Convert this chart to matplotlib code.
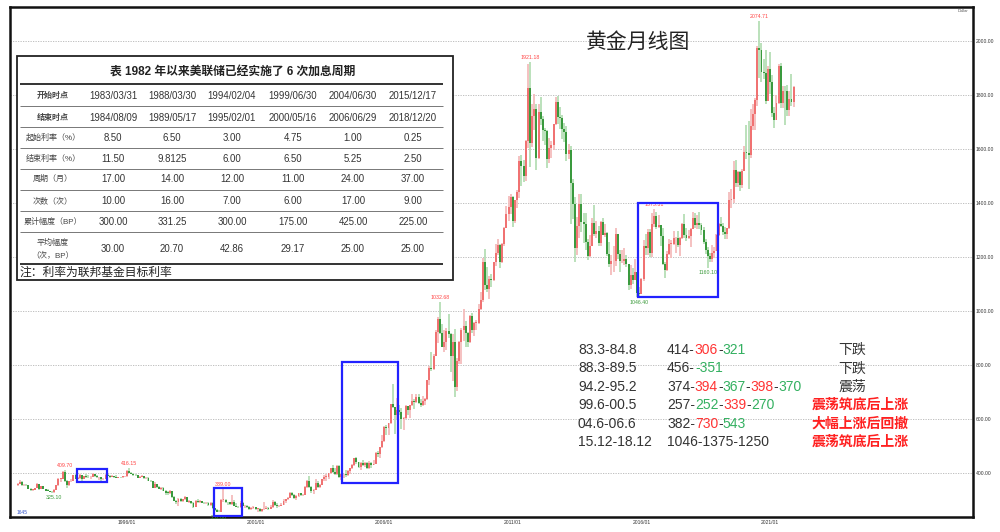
import matplotlib.pyplot as plt
import numpy as np
import pandas as pd
from matplotlib.patches import Rectangle
from matplotlib.ticker import FormatStrFormatter

plt.rcParams['font.family'] = ['Liberation Sans', 'Noto Sans CJK SC', 'DejaVu Sans']

# gold monthly candles, Oct 1991 - Dec 2021 (open = previous close)
first_open = 354
close = [
    358, 366, 353,
    354, 353, 341, 337, 337, 343, 357, 340, 349, 339, 334, 333,
    330, 327, 337, 354, 378, 378, 401, 371, 355, 369, 370, 391,
    378, 381, 390, 376, 387, 386, 384, 386, 394, 389, 383, 383,
    375, 376, 392, 389, 385, 387, 384, 382, 384, 383, 387, 387,
    405, 400, 396, 392, 391, 382, 385, 387, 379, 379, 371, 369,
    345, 358, 348, 340, 345, 334, 326, 325, 332, 311, 296, 290,
    304, 297, 301, 310, 293, 296, 288, 273, 294, 292, 294, 288,
    287, 287, 279, 286, 268, 261, 255, 254, 299, 299, 291, 290,
    283, 293, 277, 274, 272, 288, 276, 278, 273, 264, 270, 273,
    266, 267, 258, 264, 267, 271, 266, 273, 293, 279, 275, 277,
    282, 297, 302, 308, 326, 318, 305, 313, 324, 317, 317, 347,
    368, 348, 334, 336, 361, 346, 354, 375, 385, 386, 398, 416,
    402, 397, 426, 386, 394, 394, 391, 408, 416, 428, 453, 438,
    422, 435, 428, 436, 417, 436, 429, 434, 473, 470, 495, 517,
    568, 564, 583, 654, 643, 614, 633, 624, 599, 604, 646, 632,
    651, 665, 662, 681, 659, 650, 666, 673, 743, 789, 783, 834,
    923, 971, 916, 865, 885, 926, 913, 833, 884, 717, 815, 884,
    928, 942, 916, 883, 980, 927, 955, 955, 1008, 1040, 1182, 1097,
    1081, 1118, 1113, 1180, 1213, 1245, 1181, 1248, 1307, 1357, 1386, 1421,
    1333, 1410, 1439, 1556, 1536, 1500, 1628, 1826, 1620, 1722, 1746, 1566,
    1737, 1711, 1669, 1664, 1561, 1604, 1614, 1692, 1773, 1719, 1714, 1675,
    1663, 1579, 1595, 1472, 1394, 1234, 1313, 1395, 1327, 1323, 1253, 1202,
    1240, 1326, 1284, 1296, 1250, 1327, 1282, 1287, 1209, 1172, 1183, 1184,
    1283, 1212, 1183, 1183, 1190, 1172, 1095, 1133, 1115, 1142, 1065, 1061,
    1118, 1238, 1233, 1293, 1215, 1322, 1351, 1309, 1316, 1277, 1173, 1151,
    1211, 1249, 1249, 1268, 1269, 1242, 1269, 1322, 1280, 1271, 1275, 1303,
    1345, 1318, 1325, 1316, 1299, 1253, 1224, 1201, 1192, 1215, 1222, 1282,
    1321, 1313, 1292, 1284, 1305, 1409, 1413, 1520, 1472, 1513, 1464, 1517,
    1589, 1585, 1577, 1686, 1730, 1781, 1975, 1967, 1886, 1879, 1777, 1895,
    1847, 1734, 1708, 1769, 1906, 1770, 1814, 1813, 1743, 1783, 1774, 1829,
]
high = [
    363, 372, 368,
    360, 358, 354, 342, 341, 345, 362, 358, 351, 350, 340, 338,
    334, 334, 338, 356, 380, 382, 406, 409.70, 372, 370, 375, 392,
    395, 386, 394, 391, 389, 395, 390, 388, 398, 396, 392, 384,
    384, 380, 394, 396, 391, 390, 389, 390, 386, 386, 389, 389,
    409, 416.15, 401, 398, 395, 392, 389, 390, 388, 386, 384, 373,
    370, 364, 359, 349, 347, 348, 335, 331, 335, 334, 313, 300,
    306, 305, 304, 314, 311, 300, 297, 290, 300, 301, 300, 297,
    293, 292, 290, 290, 292, 269, 264, 263, 301, 339.00, 301, 293,
    292, 316, 299, 289, 278, 294, 292, 281, 279, 276, 272, 276,
    274, 268, 268, 266, 292, 275, 272, 279, 300, 294, 286, 281,
    288, 304, 304, 310, 327, 329, 323, 316, 326, 326, 323, 349,
    372, 389, 352, 341, 375, 371, 360, 376, 391, 394, 399, 417,
    428, 418, 430, 428, 395, 397, 409, 411, 418, 431, 456, 457,
    440, 440, 447, 438, 438, 443, 438, 448, 475, 480, 497, 541,
    572, 576, 585, 655, 730, 645, 676, 652, 640, 608, 650, 647,
    652, 690, 672, 693, 692, 672, 684, 676, 745, 796, 848, 838,
    930, 976, 1032.68, 950, 930, 935, 988, 918, 913, 933, 826, 889,
    936, 1007, 962, 923, 984, 991, 960, 966, 1024, 1070, 1195, 1227,
    1162, 1127, 1136, 1181, 1249, 1265, 1246, 1250, 1310, 1387, 1424, 1431,
    1424, 1412, 1447, 1575, 1577, 1557, 1632, 1913, 1921.18, 1764, 1803, 1764,
    1764, 1791, 1723, 1677, 1668, 1640, 1628, 1693, 1790, 1796, 1755, 1725,
    1696, 1683, 1617, 1612, 1487, 1423, 1348, 1433, 1434, 1362, 1361, 1267,
    1280, 1345, 1392, 1331, 1315, 1332, 1345, 1323, 1290, 1255, 1206, 1239,
    1307, 1284, 1224, 1224, 1232, 1205, 1174, 1170, 1157, 1191, 1143, 1088,
    1123, 1263, 1283, 1304, 1304, 1362, 1375.31, 1367, 1353, 1317, 1306, 1181,
    1220, 1264, 1262, 1295, 1273, 1296, 1274, 1326, 1357, 1306, 1299, 1307,
    1366, 1362, 1356, 1365, 1326, 1310, 1266, 1235, 1214, 1243, 1237, 1284,
    1326, 1347, 1324, 1310, 1306, 1439, 1452, 1555, 1557, 1517, 1516, 1525,
    1611, 1689, 1704, 1747, 1765, 1789, 1981, 2074.71, 1992, 1933, 1966, 1906,
    1959, 1872, 1755, 1798, 1913, 1916, 1832, 1834, 1836, 1814, 1877, 1831,
]
low = [
    352, 357, 352,
    349, 350, 340, 333, 334, 336, 342, 337, 339, 338, 331, 331,
    327, 326, 325.10, 336, 352, 366, 376, 364, 345, 352, 364, 369,
    375, 376, 378, 370, 375, 380, 381, 376, 385, 385, 382, 374,
    371, 372, 375, 387, 382, 383, 382, 381, 381, 381, 382, 384,
    386, 398, 394, 389, 389, 380, 380, 384, 378, 378, 368, 367,
    343, 342, 345, 338, 337, 333, 318, 319, 320, 308, 294, 284,
    277, 292, 291, 299, 292, 289, 285, 271, 272, 289, 289, 286,
    283, 283, 278, 278, 266, 257, 253, 252.80, 253.5, 291, 289, 280,
    280, 281, 276, 272, 270, 271, 275, 271, 270, 263, 262, 267,
    262, 255, 255, 255, 263, 265, 263, 265, 270, 277, 271, 272,
    276, 281, 288, 298, 307, 314, 302, 300, 311, 313, 315, 316,
    343, 345, 326, 322, 335, 342, 342, 353, 370, 369, 378, 396,
    398, 393, 392, 381, 372, 382, 385, 387, 397, 414, 425, 432,
    419, 411, 424, 421, 414, 414, 416, 428, 432, 460, 456, 491,
    514, 540, 539, 582, 640, 543, 600, 612, 561, 560, 600, 612,
    603, 648, 636, 660, 653, 642, 648, 650, 670, 726, 776, 779,
    832, 882, 913, 864, 846, 856, 898, 773, 740, 681, 703, 801,
    803, 889, 866, 865, 880, 916, 908, 930, 950, 1003, 1033, 1075,
    1071, 1045, 1088, 1112, 1165, 1207, 1157, 1178, 1241, 1306, 1331, 1360,
    1309, 1324, 1381, 1417, 1462, 1478, 1481, 1603, 1534, 1606, 1670, 1523,
    1563, 1689, 1627, 1613, 1527, 1548, 1564, 1597, 1687, 1691, 1672, 1636,
    1626, 1555, 1562, 1321, 1338, 1180, 1207, 1271, 1292, 1251, 1226, 1187,
    1200, 1238, 1277, 1268, 1240, 1240, 1281, 1273, 1204, 1161, 1131, 1142,
    1167, 1191, 1142, 1175, 1170, 1162, 1077, 1080, 1098, 1113, 1052, 1046.40,
    1061, 1111, 1208, 1208, 1200, 1200, 1310, 1301, 1305, 1241, 1171, 1122,
    1146, 1207, 1194, 1244, 1214, 1236, 1204, 1266, 1271, 1260, 1264, 1236,
    1302, 1307, 1303, 1302, 1282, 1246, 1211, 1160.10, 1180, 1182, 1196, 1221,
    1276, 1311, 1281, 1266, 1267, 1303, 1381, 1400, 1459, 1459, 1445, 1454,
    1516, 1563, 1451, 1567, 1670, 1671, 1758, 1863, 1849, 1860, 1764, 1776,
    1802, 1717, 1677, 1706, 1765, 1750, 1750, 1688, 1721, 1722, 1758, 1753,
]

# extremes labelled on the chart: (month, which side)
marked = [("1993-03", "low"), ("1993-08", "high"), ("1996-02", "high"),
          ("1999-08", "low"), ("1999-10", "high"), ("2008-03", "high"),
          ("2011-09", "high"), ("2015-12", "low"), ("2016-07", "high"),
          ("2018-08", "low"), ("2020-08", "high")]

# rate-hike table
table_title = "表 1982 年以来美联储已经实施了 6 次加息周期"
row_names = ["开始时点", "结束时点", "起始利率（%）", "结束利率（%）", "周期（月）",
             "次数（次）", "累计幅度（BP）", "平均幅度\n（次，BP）"]
start_dates = ["1983/03/31", "1988/03/30", "1994/02/04", "1999/06/30", "2004/06/30", "2015/12/17"]
end_dates = ["1984/08/09", "1989/05/17", "1995/02/01", "2000/05/16", "2006/06/29", "2018/12/20"]
start_rate = ["8.50", "6.50", "3.00", "4.75", "1.00", "0.25"]
end_rate = ["11.50", "9.8125", "6.00", "6.50", "5.25", "2.50"]
cycle_months = ["17.00", "14.00", "12.00", "11.00", "24.00", "37.00"]
hike_count = ["10.00", "16.00", "7.00", "6.00", "17.00", "9.00"]
total_bp = ["300.00", "331.25", "300.00", "175.00", "425.00", "225.00"]
avg_bp = ["30.00", "20.70", "42.86", "29.17", "25.00", "25.00"]
table_note = "注：利率为联邦基金目标利率"

# gold moves during each hike cycle
periods = ["83.3-84.8", "88.3-89.5", "94.2-95.2", "99.6-00.5", "04.6-06.6", "15.12-18.12"]
price_paths = [
    [("414-", "k"), ("306", "r"), ("-", "k"), ("321", "g")],
    [("456-", "k"), ("-351", "g")],
    [("374-", "k"), ("394", "r"), ("-", "k"), ("367", "g"), ("-", "k"), ("398", "r"), ("-", "k"), ("370", "g")],
    [("257-", "k"), ("252", "g"), ("-", "k"), ("339", "r"), ("-", "k"), ("270", "g")],
    [("382-", "k"), ("730", "r"), ("-", "k"), ("543", "g")],
    [("1046-1375-1250", "k")],
]
verdicts = ["下跌", "下跌", "震荡", "震荡筑底后上涨", "大幅上涨后回撤", "震荡筑底后上涨"]
verdict_hot = [False, False, False, True, True, True]

seg_colors = {"k": "#333333", "r": "#ff3333", "g": "#33b060"}

months = pd.date_range("1991-10-01", periods=len(close), freq="MS")
x = np.asarray(months.year + (months.month - 1) / 12.0)
c = np.array(close, dtype=float)
o = np.r_[first_open, c[:-1]]
h = np.array(high, dtype=float)
l = np.array(low, dtype=float)
up = c >= o

fig = plt.figure(figsize=(10, 5.32), dpi=100)
ax = fig.add_axes([0.010, 0.0282, 0.963, 0.9586])

ax.vlines(x[up], l[up], h[up], color="#f5bcbc", lw=1.3, zorder=2)
ax.vlines(x[~up], l[~up], h[~up], color="#b5deb5", lw=1.3, zorder=2)
body_lo = np.minimum(o, c)
body_h = np.maximum(np.abs(c - o), 2)
ax.bar(x[up], body_h[up], bottom=body_lo[up], width=0.075, color="#f07272", lw=0, zorder=3)
ax.bar(x[~up], body_h[~up], bottom=body_lo[~up], width=0.075, color="#3a9a3e", lw=0, zorder=3)

# high / low labels
for ym, side in marked:
    i = months.get_loc(pd.Timestamp(ym + "-01"))
    if side == "high":
        ax.annotate(f"{h[i]:.2f}", (x[i], h[i]), xytext=(0, 1.5), textcoords="offset points",
                    ha="center", va="bottom", fontsize=3.8, color="#ff4444", zorder=4)
    else:
        ax.annotate(f"{l[i]:.2f}", (x[i], l[i]), xytext=(0, -1.5), textcoords="offset points",
                    ha="center", va="top", fontsize=3.8, color="#3a9a3a", zorder=4)

# blue boxes around the hike cycles
for x0, x1, y0, y1 in [(1994.06, 1995.22, 366, 414), (1999.38, 2000.47, 240, 344),
                       (2004.36, 2006.54, 362, 810), (2015.87, 2018.98, 1051, 1399)]:
    ax.add_patch(Rectangle((x0, y0), x1 - x0, y1 - y0, fill=False, ec="#2222ff", lw=1.6, zorder=5))

ax.set_xlim(1991.45, 2028.89)
ax.set_ylim(236, 2125)
ax.yaxis.tick_right()
ax.set_yticks(range(400, 2001, 200))
ax.yaxis.set_major_formatter(FormatStrFormatter("%.2f"))
xt = [1996, 2001, 2006, 2011, 2016, 2021]
ax.set_xticks(xt)
ax.set_xticklabels([f"{t}/01" for t in xt])
ax.tick_params(axis="both", labelsize=3.6, length=0, pad=2, colors="#333333")
ax.grid(axis="y", color="#b5b5b5", linestyle=(0, (1.5, 1.5)), lw=0.6)
for s in ax.spines.values():
    s.set_linewidth(1.8)
    s.set_color("#111111")

# overlay in pixel coordinates for table and notes
ov = fig.add_axes([0, 0, 1, 1])
ov.set_xlim(0, 1000)
ov.set_ylim(532, 0)
ov.axis("off")

ov.text(638, 42, "黄金月线图", ha="center", va="center", fontsize=15, color="#222222")
ov.text(963, 11, "Dollar", ha="center", va="center", fontsize=3, color="#555555")
ov.text(17, 513, "1645", ha="left", va="center", fontsize=3.5, color="#3355cc")

ov.add_patch(Rectangle((17, 56), 436, 224, fc="white", ec="#222222", lw=1.3))
ov.text(233, 73, table_title, ha="center", va="center", fontsize=8.5, fontweight="bold", color="#222222")
ov.hlines([84, 264], 20, 443, color="#333333", lw=1.4)
ov.hlines([106, 127, 148, 169, 190, 211, 232], 20, 443, color="#777777", lw=0.7)
row_y = [96, 118, 138, 159, 179, 201, 222, 249]
col_x = [113, 172, 232, 293, 353, 413]
rows = [start_dates, end_dates, start_rate, end_rate, cycle_months, hike_count, total_bp, avg_bp]
for k, (name, vals) in enumerate(zip(row_names, rows)):
    ov.text(53, row_y[k], name, ha="center", va="center", fontsize=5.8, color="#444444",
            fontweight="bold" if k < 2 else "normal", linespacing=1.6)
    for cx, v in zip(col_x, vals):
        ov.text(cx, row_y[k], v, ha="center", va="center", fontsize=6.9, color="#333333")
ov.text(19, 273, table_note, ha="left", va="center", fontsize=8.5, color="#222222")

# hike-cycle notes
for k in range(len(periods)):
    y = 350 + k * 18.4
    ov.text(578, y, periods[k], ha="left", va="center", fontsize=10, color="#333333")
    segs = price_paths[k]
    prev = ov.text(667, y, segs[0][0], ha="left", va="center", fontsize=10, color=seg_colors[segs[0][1]])
    for s, code in segs[1:]:
        prev = ov.annotate(s, xy=(1, 0), xycoords=prev, ha="left", va="bottom",
                           fontsize=10, color=seg_colors[code])
    if verdict_hot[k]:
        ov.text(812, y, verdicts[k], ha="left", va="center", fontsize=10, color="#ff2020", fontweight="bold")
    else:
        ov.text(838, y, verdicts[k], ha="left", va="center", fontsize=10, color="#333333")

fig.savefig("out.png", dpi=100)
